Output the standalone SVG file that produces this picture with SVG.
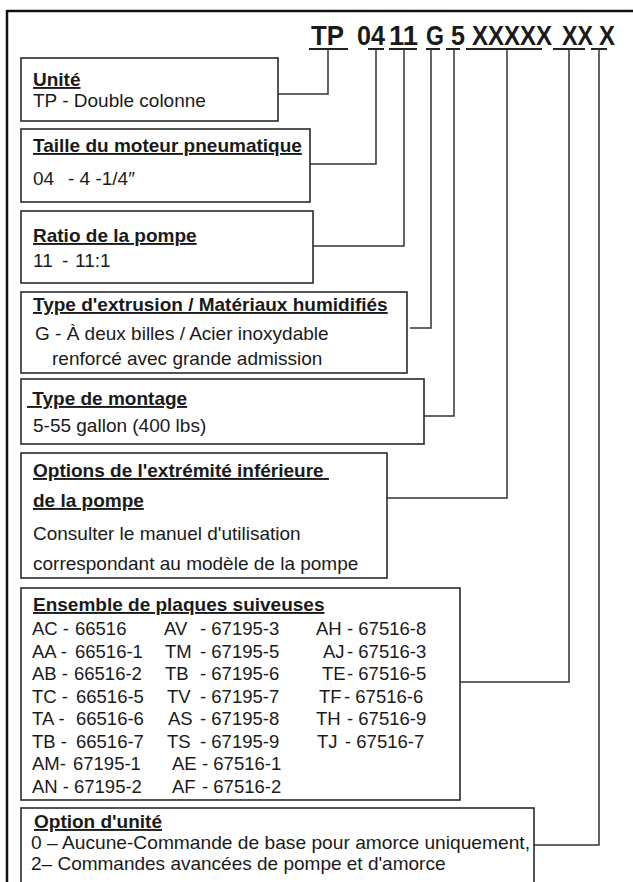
<svg xmlns="http://www.w3.org/2000/svg" width="633" height="882" viewBox="0 0 633 882">
<style>
text{font-family:"Liberation Sans",Arial,sans-serif;fill:#1a1a1a}
.b{font-size:19px}
.s{font-size:18.5px}
.t{font-size:19px;font-weight:bold;text-decoration:underline}
.h{font-size:28px;font-weight:bold}
.box{fill:#fff;stroke:#2a2a2a;stroke-width:1.6}
.c{fill:none;stroke:#333;stroke-width:1.5}
.u{stroke:#222;stroke-width:2}
</style>
<rect width="633" height="882" fill="#fff"/>
<path d="M7 882V11H633" fill="none" stroke="#111" stroke-width="2.5"/>
<g id="code">
<text class="h" x="311" y="45" textLength="33" lengthAdjust="spacingAndGlyphs">TP</text>
<text class="h" x="357" y="45" textLength="28" lengthAdjust="spacingAndGlyphs">04</text>
<text class="h" x="389" y="45" textLength="29" lengthAdjust="spacingAndGlyphs">11</text>
<text class="h" x="426" y="45" textLength="18" lengthAdjust="spacingAndGlyphs">G</text>
<text class="h" x="451" y="45" textLength="14" lengthAdjust="spacingAndGlyphs">5</text>
<text class="h" x="472" y="45" textLength="80" lengthAdjust="spacingAndGlyphs">XXXXX</text>
<text class="h" x="562" y="45" textLength="31" lengthAdjust="spacingAndGlyphs">XX</text>
<text class="h" x="599" y="45" textLength="16" lengthAdjust="spacingAndGlyphs">X</text>
<path class="u" d="M309 49H348M368 49H384M389 49H417M426 49H440M446 49H460M466 49H542M553 49H585M591 49H607"/>
</g>
<g id="connectors">
<path class="c" d="M328 49V94H278"/>
<path class="c" d="M376 49V164H310"/>
<path class="c" d="M404 49V246H313"/>
<path class="c" d="M431 49V328H410"/>
<path class="c" d="M454 49V416H424"/>
<path class="c" d="M507 49V498H387"/>
<path class="c" d="M569 49V682H460"/>
<path class="c" d="M599 49V845H534"/>
</g>
<g id="unite">
<rect class="box" x="21" y="58" width="257" height="63"/>
<text class="t" x="33" y="86">Unité</text>
<text class="b" x="33" y="107">TP - Double colonne</text>
</g>
<g id="taille">
<rect class="box" x="21" y="129" width="289" height="73"/>
<text class="t" x="33" y="152">Taille du moteur pneumatique</text>
<text class="b" y="185"><tspan x="33">04</tspan><tspan x="68">- 4 -1/4″</tspan></text>
</g>
<g id="ratio">
<rect class="box" x="21" y="211" width="292" height="72"/>
<text class="t" x="33" y="242">Ratio de la pompe</text>
<text class="b" y="267"><tspan x="33">11</tspan><tspan x="62">-</tspan><tspan x="75">11:1</tspan></text>
</g>
<g id="extrusion">
<rect class="box" x="21" y="292" width="386" height="81"/>
<text class="t" x="33" y="311">Type d'extrusion / Matériaux humidifiés</text>
<text class="b" x="35" y="340">G - À deux billes / Acier inoxydable</text>
<text class="b" x="52" y="365">renforcé avec grande admission</text>
</g>
<g id="montage">
<rect class="box" x="21" y="379" width="403" height="65"/>
<text class="t" x="27" y="405" xml:space="preserve"> Type de montage</text>
<text class="b" x="33" y="432">5-55 gallon (400 lbs)</text>
</g>
<g id="options">
<rect class="box" x="21" y="453" width="366" height="125"/>
<text class="t" x="33" y="477" xml:space="preserve">Options de l'extrémité inférieure </text>
<text class="t" x="33" y="507">de la pompe</text>
<text class="b" x="33" y="540">Consulter le manuel d'utilisation</text>
<text class="b" x="33" y="570">correspondant au modèle de la pompe</text>
</g>
<g id="plaques">
<rect class="box" x="21" y="588" width="439" height="212"/>
<text class="t" x="33" y="611">Ensemble de plaques suiveuses</text>
<text class="s" y="635"><tspan x="32">AC - </tspan><tspan x="75">66516</tspan><tspan x="164">AV</tspan><tspan x="200">- 67195-3</tspan><tspan x="316">AH</tspan><tspan x="347">- 67516-8</tspan></text>
<text class="s" y="657.5"><tspan x="32">AA - </tspan><tspan x="75">66516-1</tspan><tspan x="165">TM</tspan><tspan x="200">- 67195-5</tspan><tspan x="323">AJ</tspan><tspan x="347">- 67516-3</tspan></text>
<text class="s" y="680"><tspan x="32">AB - </tspan><tspan x="74">66516-2</tspan><tspan x="165">TB</tspan><tspan x="200">- 67195-6</tspan><tspan x="322">TE</tspan><tspan x="347">- 67516-5</tspan></text>
<text class="s" y="702.5"><tspan x="32">TC - </tspan><tspan x="76">66516-5</tspan><tspan x="167">TV</tspan><tspan x="200">- 67195-7</tspan><tspan x="319">TF</tspan><tspan x="344">- 67516-6</tspan></text>
<text class="s" y="725"><tspan x="32">TA - </tspan><tspan x="76">66516-6</tspan><tspan x="168">AS</tspan><tspan x="200">- 67195-8</tspan><tspan x="316">TH</tspan><tspan x="347">- 67516-9</tspan></text>
<text class="s" y="747.5"><tspan x="32">TB - </tspan><tspan x="76">66516-7</tspan><tspan x="167">TS</tspan><tspan x="200">- 67195-9</tspan><tspan x="317">TJ</tspan><tspan x="345">- 67516-7</tspan></text>
<text class="s" y="770"><tspan x="32">AM- </tspan><tspan x="73">67195-1</tspan><tspan x="172">AE</tspan><tspan x="202">- 67516-1</tspan></text>
<text class="s" y="792.5"><tspan x="32">AN - </tspan><tspan x="74">67195-2</tspan><tspan x="172">AF</tspan><tspan x="202">- 67516-2</tspan></text>
</g>
<g id="option-unite">
<rect class="box" x="21" y="808" width="513" height="90"/>
<text class="t" x="34" y="828">Option d'unité</text>
<text class="b" x="31" y="849" textLength="499" lengthAdjust="spacingAndGlyphs">0 – Aucune-Commande de base pour amorce uniquement,</text>
<text class="b" x="31" y="870">2– Commandes avancées de pompe et d'amorce</text>
</g>
</svg>
